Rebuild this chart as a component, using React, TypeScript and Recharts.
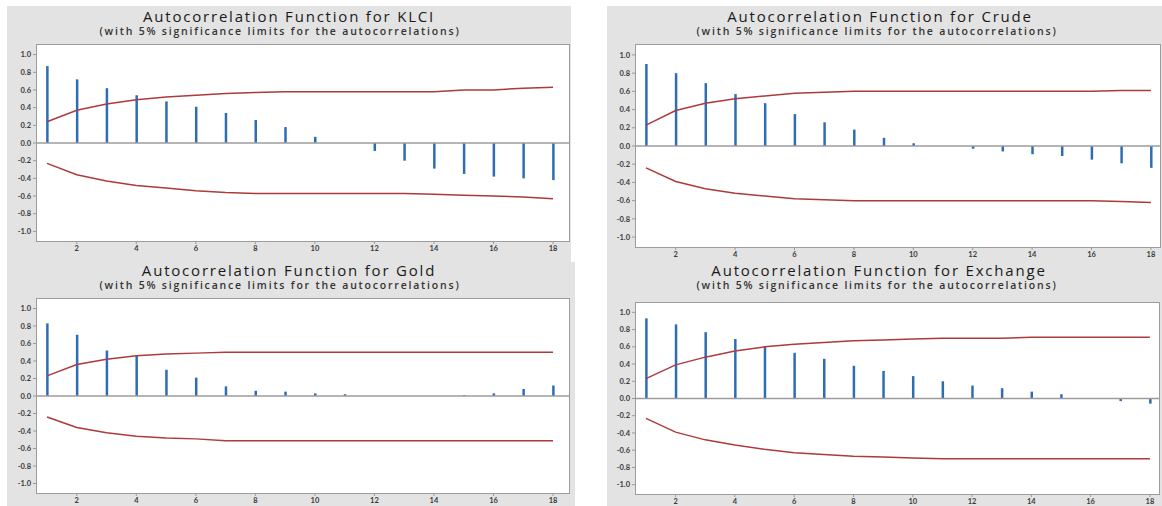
import * as React from "react"
import { ComposedChart, Bar, Line, XAxis, YAxis, ReferenceLine } from "recharts"

const lags = [1, 2, 3, 4, 5, 6, 7, 8, 9, 10, 11, 12, 13, 14, 15, 16, 17, 18]
const xTicks = [2, 4, 6, 8, 10, 12, 14, 16, 18]
const yTicks = [-1.0, -0.8, -0.6, -0.4, -0.2, 0.0, 0.2, 0.4, 0.6, 0.8, 1.0]

const klciAcf = [0.87, 0.72, 0.62, 0.54, 0.47, 0.41, 0.34, 0.26, 0.18, 0.07, 0.0, -0.09, -0.2, -0.29, -0.35, -0.38, -0.4, -0.42]
const klciUpper = [0.24, 0.37, 0.44, 0.49, 0.52, 0.54, 0.56, 0.57, 0.58, 0.58, 0.58, 0.58, 0.58, 0.58, 0.6, 0.6, 0.62, 0.63]
const klciLower = [-0.23, -0.36, -0.43, -0.48, -0.51, -0.54, -0.56, -0.57, -0.57, -0.57, -0.57, -0.57, -0.57, -0.58, -0.59, -0.6, -0.61, -0.63]

const crudeAcf = [0.9, 0.8, 0.69, 0.57, 0.47, 0.35, 0.26, 0.18, 0.09, 0.03, 0.0, -0.03, -0.06, -0.09, -0.11, -0.15, -0.19, -0.24]
const crudeUpper = [0.23, 0.39, 0.47, 0.52, 0.55, 0.58, 0.59, 0.6, 0.6, 0.6, 0.6, 0.6, 0.6, 0.6, 0.6, 0.6, 0.61, 0.61]
const crudeLower = [-0.24, -0.39, -0.47, -0.52, -0.55, -0.58, -0.59, -0.6, -0.6, -0.6, -0.6, -0.6, -0.6, -0.6, -0.6, -0.6, -0.61, -0.62]

const goldAcf = [0.83, 0.7, 0.52, 0.46, 0.3, 0.21, 0.11, 0.06, 0.05, 0.03, 0.02, 0.0, 0.0, 0.0, 0.01, 0.03, 0.08, 0.12]
const goldUpper = [0.23, 0.36, 0.42, 0.46, 0.48, 0.49, 0.5, 0.5, 0.5, 0.5, 0.5, 0.5, 0.5, 0.5, 0.5, 0.5, 0.5, 0.5]
const goldLower = [-0.24, -0.36, -0.42, -0.46, -0.48, -0.49, -0.51, -0.51, -0.51, -0.51, -0.51, -0.51, -0.51, -0.51, -0.51, -0.51, -0.51, -0.51]

const exchAcf = [0.93, 0.86, 0.77, 0.69, 0.6, 0.53, 0.46, 0.38, 0.32, 0.26, 0.2, 0.15, 0.12, 0.08, 0.05, 0.0, -0.03, -0.06]
const exchUpper = [0.23, 0.39, 0.48, 0.55, 0.6, 0.63, 0.65, 0.67, 0.68, 0.69, 0.7, 0.7, 0.7, 0.71, 0.71, 0.71, 0.71, 0.71]
const exchLower = [-0.23, -0.39, -0.48, -0.54, -0.59, -0.63, -0.65, -0.67, -0.68, -0.69, -0.7, -0.7, -0.7, -0.7, -0.7, -0.7, -0.7, -0.7]

const SUB = "(with 5% significance limits for the autocorrelations)"
const BLUE = "#2e6db4"
const RED = "#ad3a3c"
const BG = "#e3e3e3"

type PanelProps = {
    title: string
    acf: number[]
    upper: number[]
    lower: number[]
    titleX: number
    subX: number
    titleY: number
    x: number
    y: number
    w: number
    h: number
    xDomain: [number, number]
}

function AcfPanel({ title, acf, upper, lower, titleX, subX, titleY, x, y, w, h, xDomain }: PanelProps) {
    const data = lags.map((lag, i) => ({ lag, acf: acf[i], upper: upper[i], lower: lower[i] }))
    const axisW = 36
    const tickStyle = { fontSize: 7.5, fontWeight: 700, fill: "#3a3a3a", fontFamily: "Lato, sans-serif" }
    const font = "'Open Sans', sans-serif"
    return (
        <>
            <div style={{ position: "absolute", left: titleX - 250, top: titleY, width: 500, textAlign: "center", fontFamily: font, color: "#1a1a1a", fontSize: 15, letterSpacing: 1.8, lineHeight: "16px", whiteSpace: "nowrap" }}>
                {title}
            </div>
            <div style={{ position: "absolute", left: subX - 250, top: titleY + 17, width: 500, textAlign: "center", fontFamily: font, color: "#333", fontSize: 10.5, letterSpacing: 1.8, lineHeight: "13px", fontWeight: 600, whiteSpace: "nowrap" }}>
                {SUB}
            </div>
            <div style={{ position: "absolute", left: x, top: y, width: w, height: h, background: "#fff", boxSizing: "border-box", border: "1.5px solid #9c9c9c" }} />
            <div style={{ position: "absolute", left: x - axisW, top: y }}>
                <ComposedChart width={w + axisW} height={h + 16} data={data} margin={{ top: 0, right: 0, bottom: 0, left: 0 }}>
                    <XAxis
                        dataKey="lag"
                        type="number"
                        domain={xDomain}
                        ticks={xTicks}
                        axisLine={false}
                        tickSize={2}
                        tickLine={{ stroke: "#999" }}
                        tick={tickStyle}
                        height={16}
                        allowDataOverflow
                    />
                    <YAxis
                        type="number"
                        domain={[-1.12, 1.12]}
                        ticks={yTicks}
                        tickFormatter={(v: number) => v.toFixed(1)}
                        axisLine={false}
                        tickSize={3}
                        tickLine={{ stroke: "#999" }}
                        tick={tickStyle}
                        width={axisW}
                        allowDataOverflow
                    />
                    <ReferenceLine y={0} stroke="#9c9c9c" strokeWidth={1.5} />
                    <Bar dataKey="acf" fill={BLUE} barSize={2.5} isAnimationActive={false} />
                    <Line type="linear" dataKey="upper" stroke={RED} strokeWidth={1.5} dot={false} isAnimationActive={false} />
                    <Line type="linear" dataKey="lower" stroke={RED} strokeWidth={1.5} dot={false} isAnimationActive={false} />
                </ComposedChart>
            </div>
        </>
    )
}

export default function App() {
    return (
        <div style={{ position: "absolute", left: 0, top: 0, width: 1162, height: 506, background: "#fff", overflow: "hidden" }}>
            {/* gray backgrounds */}
            <div style={{ position: "absolute", left: 7, top: 6, width: 564, height: 256, background: BG }} />
            <div style={{ position: "absolute", left: 7, top: 262, width: 568, height: 244, background: BG }} />
            <div style={{ position: "absolute", left: 607, top: 6, width: 555, height: 500, background: BG }} />

            <AcfPanel title="Autocorrelation Function for KLCI" acf={klciAcf} upper={klciUpper} lower={klciLower}
                titleX={289} subX={280} titleY={8} x={36} y={44} w={534} h={198} xDomain={[0.63, 18.57]} />
            <AcfPanel title="Autocorrelation Function for Crude" acf={crudeAcf} upper={crudeUpper} lower={crudeLower}
                titleX={880} subX={877} titleY={8} x={635} y={44} w={526} h={204} xDomain={[0.63, 18.34]} />
            <AcfPanel title="Autocorrelation Function for Gold" acf={goldAcf} upper={goldUpper} lower={goldLower}
                titleX={289} subX={280} titleY={262} x={36} y={298} w={534} h={196} xDomain={[0.63, 18.57]} />
            <AcfPanel title="Autocorrelation Function for Exchange" acf={exchAcf} upper={exchUpper} lower={exchLower}
                titleX={879} subX={877} titleY={262} x={635} y={302} w={525} h={193} xDomain={[0.63, 18.34]} />
        </div>
    )
}
